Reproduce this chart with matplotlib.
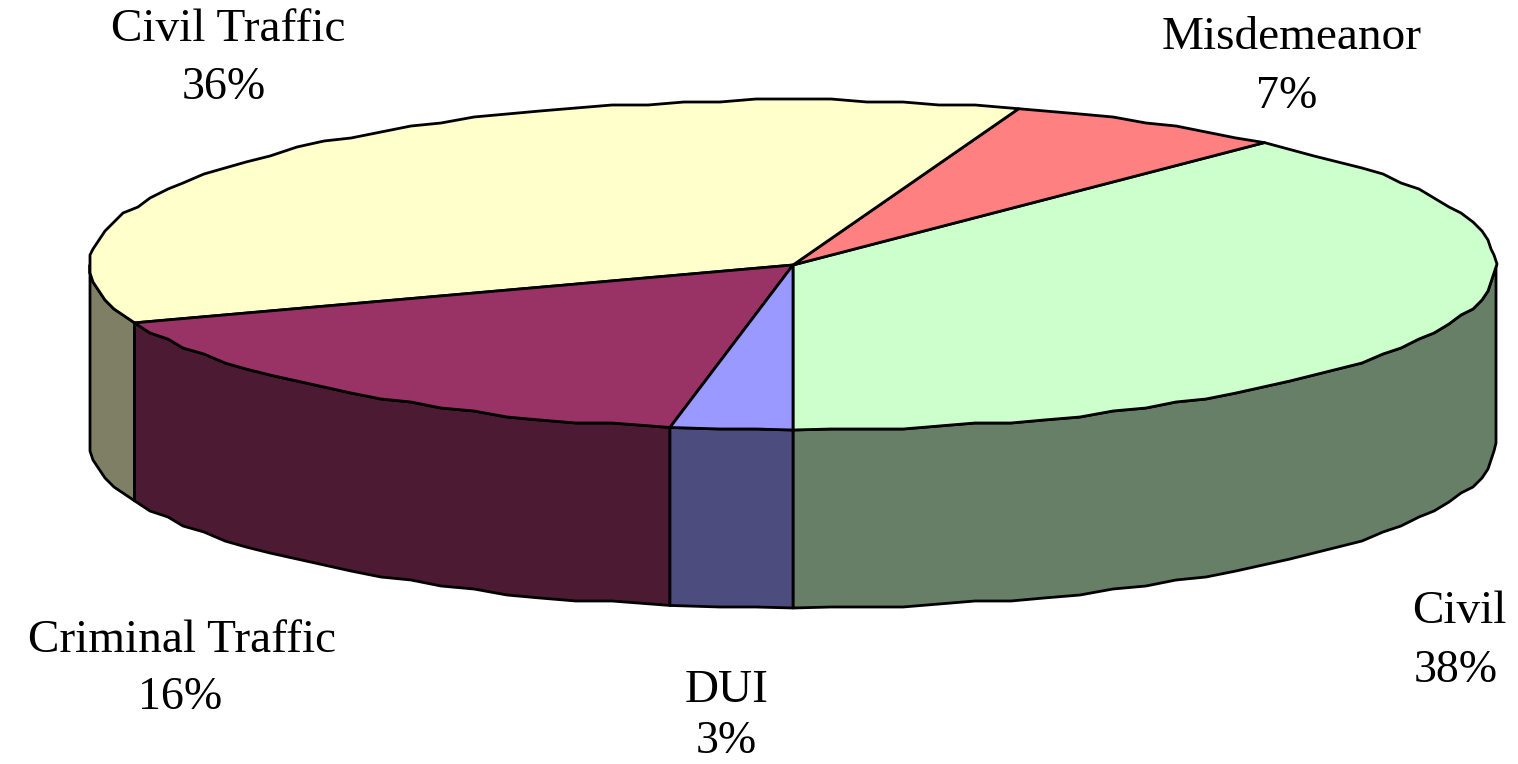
import numpy as np
import matplotlib
matplotlib.use("Agg")
import matplotlib.pyplot as plt
from matplotlib.patches import Polygon

categories = ["Civil", "Misdemeanor", "Civil Traffic", "Criminal Traffic", "DUI"]
values = [38.3, 6.5, 35.9, 16.5, 2.8]
percent_labels = ["38%", "7%", "36%", "16%", "3%"]
top_colors = ["#CCFFCC", "#FF8080", "#FFFFCC", "#993366", "#9999FF"]
side_colors = ["#667F66", "#7F4040", "#7F7F66", "#4C1A33", "#4C4C7F"]

# layout: name (x, baseline), percent (x, baseline), in reference pixels
name_pos = [(1459, 623), (1292, 49), (228, 41), (182, 652), (727, 702)]
pct_pos = [(1456, 682), (1287, 108), (224, 99), (180, 709), (726, 753)]

W, H = 1518, 764
cx, cy, rx, ry, depth = 793, 265, 703, 165, 178
GRID = 3.0
STEP = 3.0

fig = plt.figure(figsize=(W / 100, H / 100), dpi=100, facecolor="white")
ax = fig.add_axes([0, 0, 1, 1])
ax.set_xlim(0, W)
ax.set_ylim(H, 0)
ax.axis("off")


def pt(deg, dy=0, snap=True):
    a = np.radians(deg)
    x = cx + rx * np.cos(a)
    y = cy - ry * np.sin(a)
    if snap:  # the reference rim is a coarse, slightly stepped polyline
        x = np.round(x / GRID) * GRID
        y = np.round(y / GRID) * GRID
    return np.column_stack([x, y + dy])


def rim(a0, a1, dy=0):
    # vertices on one shared angular grid, so wall and top rims coincide
    k0 = int(np.ceil(a0 / STEP)) + 1
    k1 = int(np.floor(a1 / STEP)) - 1
    mid = pt(np.arange(k0, k1 + 1) * STEP, dy)
    return np.vstack([pt(a0, dy, snap=False), mid, pt(a1, dy, snap=False)])


fractions = np.array(values) / sum(values)
edges = -90 + 360 * np.concatenate([[0], np.cumsum(fractions)])

lw = 2.0
for i in range(len(values)):
    a0, a1 = edges[i], edges[i + 1]
    spans = [(max(a0, 180), min(a1, 270)), (max(a0, -90), min(a1, 0))]
    for s0, s1 in spans:
        if s1 > s0:
            poly = np.vstack([rim(s0, s1), rim(s0, s1, depth)[::-1]])
            ax.add_patch(Polygon(poly, closed=True, facecolor=side_colors[i],
                                 edgecolor="black", lw=lw, joinstyle="round", zorder=2))
for i in range(len(values)):
    poly = np.vstack([[cx, cy], rim(edges[i], edges[i + 1])])
    ax.add_patch(Polygon(poly, closed=True, facecolor=top_colors[i],
                         edgecolor="black", lw=lw, joinstyle="round", zorder=3))

for name, pct, (nx, ny), (px, py) in zip(categories, percent_labels, name_pos, pct_pos):
    ax.text(nx, ny, name, ha="center", va="baseline", family="Liberation Serif", fontsize=34, color="black")
    ax.text(px, py, pct, ha="center", va="baseline", family="Liberation Serif", fontsize=33, color="black")

fig.savefig("out.png", dpi=100)
